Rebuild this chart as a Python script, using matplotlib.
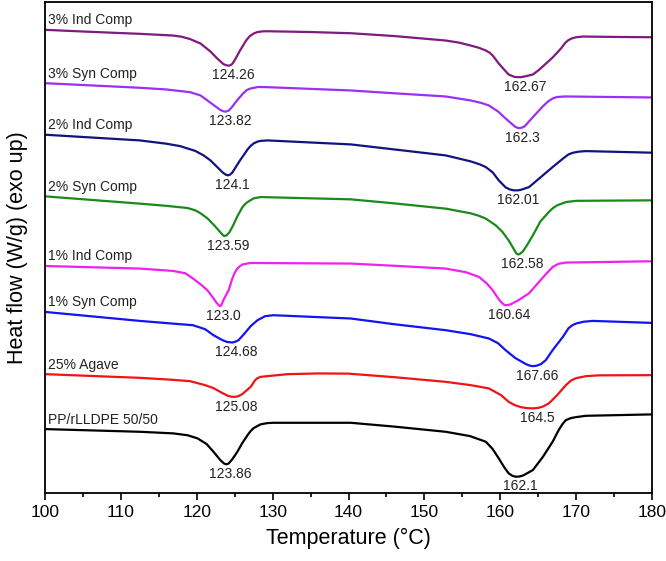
import matplotlib
matplotlib.use('Agg')
from matplotlib import pyplot as plt
from matplotlib.ticker import MultipleLocator

plt.rcParams['font.family'] = ['Liberation Sans', 'DejaVu Sans']

# sample names, top to bottom
names = ['3% Ind Comp', '3% Syn Comp', '2% Ind Comp', '2% Syn Comp',
         '1% Ind Comp', '1% Syn Comp', '25% Agave', 'PP/rLLDPE 50/50']
colors = ['#7f1a7f', '#9a30f5', '#13137f', '#1a8a1a',
          '#f020f0', '#1414f0', '#f01414', '#000000']

# peak temperatures printed on the chart (PE peak, PP peak)
peaks_pe = ['124.26', '123.82', '124.1', '123.59', '123.0', '124.68', '125.08', '123.86']
peaks_pp = ['162.67', '162.3', '162.01', '162.58', '160.64', '167.66', '164.5', '162.1']

# DSC traces (temperature in C, offset heat flow)
t_3ind = [100.0, 106.0, 112.5, 116.9, 118.0, 119.1, 120.5, 121.8, 122.7, 123.5, 123.9, 124.26,
          124.6, 124.9, 125.7, 126.5, 127.0, 127.5, 128.0, 128.7, 129.3, 135.0, 140.3, 146.0,
          152.8, 154.5, 156.1, 157.2, 158.1, 158.6, 159.0, 159.8, 160.5, 161.1, 161.9, 162.7,
          163.5, 164.3, 165.0, 165.6, 166.9, 168.0, 168.6, 169.0, 169.5, 170.0, 170.9, 175.0,
          180.0]
h_3ind = [4.637, 4.617, 4.597, 4.58, 4.568, 4.545, 4.50, 4.42, 4.35, 4.295, 4.282, 4.278,
          4.29, 4.32, 4.43, 4.53, 4.575, 4.60, 4.615, 4.622, 4.623, 4.615, 4.603, 4.575,
          4.53, 4.51, 4.48, 4.457, 4.43, 4.408, 4.38, 4.30, 4.24, 4.19, 4.165, 4.163,
          4.175, 4.19, 4.23, 4.27, 4.36, 4.45, 4.51, 4.535, 4.553, 4.563, 4.57, 4.566,
          4.563]

t_3syn = [100.0, 112.5, 116.0, 119.1, 120.5, 121.4, 122.3, 123.1, 123.5, 123.82, 124.2, 124.6,
          125.3, 126.1, 126.6, 127.1, 128.1, 129.3, 140.3, 146.0, 152.8, 156.1, 157.5, 158.5,
          159.7, 160.7, 161.6, 162.0, 162.4, 162.8, 163.2, 164.3, 165.6, 166.3, 166.9, 167.5,
          168.6, 180.0]
h_3syn = [4.103, 4.057, 4.04, 4.013, 3.98, 3.93, 3.88, 3.835, 3.822, 3.818, 3.828, 3.86,
          3.93, 4.00, 4.035, 4.05, 4.065, 4.063, 4.03, 4.002, 3.97, 3.93, 3.905, 3.88,
          3.82, 3.75, 3.69, 3.665, 3.653, 3.657, 3.67, 3.763, 3.87, 3.92, 3.95, 3.965,
          3.97, 3.96]

t_2ind = [100.0, 112.5, 116.0, 117.8, 119.8, 120.9, 121.8, 122.7, 123.4, 123.8, 124.1, 124.4,
          124.7, 125.7, 126.7, 127.1, 127.5, 128.0, 128.4, 129.3, 140.3, 146.0, 152.8, 156.1,
          157.3, 158.1, 159.0, 159.8, 160.7, 161.3, 161.8, 162.3, 162.7, 163.8, 165.3, 166.9,
          168.3, 169.0, 169.6, 170.4, 171.3, 180.0]
h_2ind = [3.587, 3.53, 3.497, 3.473, 3.425, 3.38, 3.33, 3.263, 3.21, 3.188, 3.18, 3.188,
          3.21, 3.33, 3.44, 3.475, 3.50, 3.518, 3.525, 3.53, 3.49, 3.44, 3.38, 3.32,
          3.29, 3.263, 3.21, 3.13, 3.06, 3.038, 3.03, 3.03, 3.035, 3.063, 3.16, 3.263,
          3.35, 3.39, 3.407, 3.418, 3.423, 3.407]

t_2syn = [100.0, 112.5, 116.0, 118.8, 119.8, 120.5, 121.4, 122.3, 123.0, 123.4, 123.6, 123.9,
          124.3, 124.8, 125.35, 126.0, 126.4, 126.7, 127.5, 128.4, 140.3, 146.0, 152.8, 156.1,
          157.2, 158.1, 159.4, 160.3, 161.1, 161.8, 162.1, 162.35, 162.6, 163.0, 163.6, 164.3,
          165.3, 166.4, 166.9, 167.5, 168.65, 170.0, 180.0]
h_2syn = [2.97, 2.897, 2.875, 2.853, 2.83, 2.80, 2.75, 2.68, 2.62, 2.585, 2.573, 2.578,
          2.61, 2.68, 2.77, 2.86, 2.895, 2.913, 2.95, 2.963, 2.94, 2.90, 2.847, 2.80,
          2.775, 2.747, 2.68, 2.613, 2.53, 2.44, 2.40, 2.388, 2.395, 2.42, 2.49, 2.58,
          2.72, 2.813, 2.85, 2.88, 2.913, 2.925, 2.93]

t_1ind = [100.0, 112.5, 116.9, 118.5, 119.5, 120.5, 121.4, 122.2, 122.6, 123.0, 123.2, 123.5,
          124.2, 124.7, 125.0, 125.35, 125.7, 126.1, 127.1, 140.3, 146.0, 152.8, 155.5, 157.2,
          158.2, 159.0, 159.8, 160.2, 160.6, 161.0, 161.4, 162.4, 163.8, 165.1, 166.0, 166.9,
          167.7, 168.65, 180.0]
h_1ind = [2.273, 2.247, 2.223, 2.20, 2.147, 2.09, 2.03, 1.95, 1.905, 1.872, 1.875, 1.93,
          2.03, 2.15, 2.205, 2.247, 2.272, 2.29, 2.303, 2.297, 2.275, 2.247, 2.21, 2.163,
          2.10, 2.03, 1.94, 1.905, 1.88, 1.882, 1.89, 1.93, 2.00, 2.113, 2.19, 2.263,
          2.295, 2.307, 2.32]

t_1syn = [100.0, 112.5, 117.0, 119.5, 121.1, 122.2, 123.4, 124.0, 124.7, 125.1, 125.5, 126.1,
          127.1, 128.0, 129.0, 130.1, 140.3, 146.0, 152.8, 156.1, 158.5, 159.7, 160.7, 162.0,
          163.4, 163.9, 164.3, 164.8, 165.35, 166.0, 166.9, 168.25, 169.0, 169.5, 170.0, 171.0,
          172.2, 180.0]
h_1syn = [1.813, 1.723, 1.695, 1.68, 1.64, 1.58, 1.53, 1.512, 1.507, 1.515, 1.53, 1.58,
          1.67, 1.73, 1.77, 1.78, 1.747, 1.69, 1.63, 1.59, 1.547, 1.50, 1.43, 1.35,
          1.29, 1.275, 1.27, 1.275, 1.29, 1.33, 1.43, 1.563, 1.65, 1.68, 1.697, 1.715,
          1.723, 1.703]

t_agave = [100.0, 112.5, 116.5, 119.1, 121.1, 122.2, 123.4, 124.2, 124.7, 125.1, 125.5, 126.0,
           127.1, 127.7, 128.0, 128.4, 129.3, 132.0, 136.0, 140.0, 146.0, 152.8, 156.1, 158.5,
           160.1, 161.1, 161.9, 162.7, 163.5, 164.3, 165.0, 165.6, 166.4, 167.5, 168.65, 169.3,
           170.0, 171.3, 173.0, 180.0]
h_agave = [1.19, 1.153, 1.135, 1.12, 1.08, 1.05, 1.00, 0.97, 0.963, 0.963, 0.97, 0.99,
           1.063, 1.13, 1.15, 1.163, 1.17, 1.19, 1.197, 1.195, 1.16, 1.113, 1.08, 1.047,
           0.98, 0.913, 0.88, 0.86, 0.85, 0.847, 0.852, 0.865, 0.897, 0.98, 1.08, 1.125,
           1.15, 1.17, 1.178, 1.18]

t_blend = [100.0, 112.5, 116.9, 118.8, 120.1, 121.3, 122.2, 123.1, 123.6, 123.9, 124.2, 124.7,
           125.35, 126.0, 126.7, 127.1, 127.5, 128.4, 129.3, 130.1, 140.3, 146.0, 152.8, 156.0,
           158.1, 159.0, 159.8, 160.5, 161.1, 161.6, 162.05, 162.5, 163.0, 164.3, 165.6, 166.9,
           167.7, 168.2, 168.65, 169.3, 170.0, 171.3, 180.0]
h_blend = [0.64, 0.613, 0.597, 0.578, 0.547, 0.49, 0.413, 0.33, 0.295, 0.287, 0.295, 0.34,
           0.413, 0.50, 0.58, 0.62, 0.65, 0.687, 0.70, 0.703, 0.703, 0.665, 0.613, 0.57,
           0.513, 0.44, 0.347, 0.26, 0.197, 0.172, 0.163, 0.165, 0.175, 0.23, 0.36, 0.513,
           0.63, 0.69, 0.73, 0.75, 0.76, 0.773, 0.787]

temps = [t_3ind, t_3syn, t_2ind, t_2syn, t_1ind, t_1syn, t_agave, t_blend]
flows = [h_3ind, h_3syn, h_2ind, h_2syn, h_1ind, h_1syn, h_agave, h_blend]

fig = plt.figure(figsize=(6.66, 5.61), dpi=100)
ax = fig.add_axes([0.0676, 0.1212, 0.9114, 0.876])

for name, c, t, h, p1, p2 in zip(names, colors, temps, flows, peaks_pe, peaks_pp):
    ax.plot(t, h, color=c, lw=1.6, solid_joinstyle='round')
    ax.annotate(name, xy=(t[0], h[0]), xytext=(2, 4), textcoords='offset points',
                ha='left', va='baseline', fontsize=10, color='#222222')
    # label each melting peak just under its minimum
    for lo, hi, txt in [(110, 140, p1), (150, 175, p2)]:
        seg = [(hv, tv) for tv, hv in zip(t, h) if lo <= tv <= hi]
        hmin, tmin = min(seg)
        ax.annotate(txt, xy=(tmin, hmin), xytext=(3, -7), textcoords='offset points',
                    ha='center', va='center', fontsize=10, color='#222222')

ax.set_xlim(100, 180)
ax.set_ylim(0, 4.92)
ax.xaxis.set_major_locator(MultipleLocator(10))
ax.xaxis.set_minor_locator(MultipleLocator(5))
ax.tick_params(axis='x', which='major', direction='out', length=5, width=1.2, labelsize=12.5)
ax.tick_params(axis='x', which='minor', direction='out', length=3, width=1.2)
ax.set_yticks([])
for s in ax.spines.values():
    s.set_linewidth(1.3)

ax.set_xlabel('Temperature (°C)', fontsize=15.5, labelpad=6)
ax.set_ylabel('Heat flow (W/g) (exo up)', fontsize=15.5, labelpad=12)

fig.savefig('out.png', dpi=100)
